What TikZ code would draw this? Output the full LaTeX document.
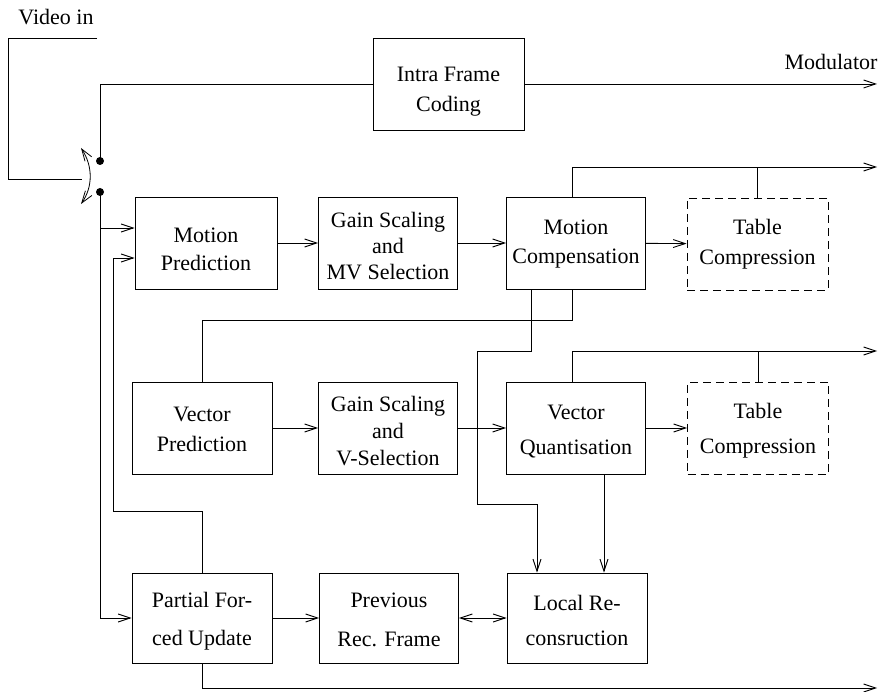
\documentclass[tikz,border=0pt]{standalone}
\usepackage{fontspec}
\setmainfont{Liberation Serif}
\usetikzlibrary{arrows.meta}
\newcommand{\bt}[3]{\raisebox{-#1pt}[\height][\depth]{\fontsize{22}{#2}\selectfont\begin{tabular}{@{}c@{}}#3\end{tabular}}}
\begin{document}
\begin{tikzpicture}[x=1pt,y=-1pt,line width=0.9pt,
  font=\fontsize{22}{29}\selectfont,
  arr/.style={-{Straight Barb[length=12pt,width=8pt]}},
  darr/.style={{Straight Barb[length=12pt,width=8pt]}-{Straight Barb[length=12pt,width=8pt]}},
  blk/.style={draw,minimum width=140pt,minimum height=92pt,align=center,inner sep=0pt},
  dblk/.style={blk,dash pattern=on 8pt off 5pt}]
\useasboundingbox (0,0) rectangle (881,692);

% boxes
\node[blk,minimum width=151pt] (intra) at (448.5,84) {\bt{6.5}{30}{Intra Frame\\Coding}};
\node[blk,minimum width=142pt] (mp) at (206,243) {\bt{8.4}{28}{Motion\\Prediction}};
\node[blk,minimum width=139pt] (gs1) at (388,243) {\bt{5.8}{26}{Gain Scaling\\and\\MV Selection}};
\node[blk,minimum width=139pt] (mc) at (576,243) {\bt{0.2}{29}{Motion\\Compensation}};
\node[dblk,minimum width=141pt] (tc1) at (757.5,244) {\bt{0}{30}{Table\\Compression}};
\node[blk] (vp) at (202,428) {\bt{3}{30}{Vector\\Prediction}};
\node[blk,minimum width=139pt] (gs2) at (388,428) {\bt{5.6}{27}{Gain Scaling\\and\\V-Selection}};
\node[blk,minimum width=139pt] (vq) at (576,428) {\bt{2.5}{35}{Vector\\Quantisation}};
\node[dblk,minimum width=141pt] (tc2) at (758,428) {\bt{1}{35}{Table\\Compression}};
\node[blk,minimum height=90pt] (pfu) at (202,618) {\bt{0.4}{38}{Partial For-\\ced Update}};
\node[blk,minimum width=139pt,minimum height=90pt] (prev) at (389,618) {\bt{0.7}{39}{Previous\\Rec. Frame}};
\node[blk,minimum height=90pt] (lr) at (577,618) {\bt{2.5}{35}{Local Re-\\consruction}};

% labels
\node (vidin) at (56,17) {Video in};
\node (modl) at (831,62) {Modulator};

% switch
\coordinate (vin) at (97,38);
\coordinate (swin) at (82,179);
\coordinate (dup) at (100,161);
\coordinate (dlow) at (100,192);
\coordinate (swa) at (81,148);
\coordinate (swb) at (81,204);
\draw (vin) -- (8,38) -- (8,179) -- (swin);
\draw[darr,line width=0.8pt] (swa) .. controls (93,166) and (93,187) .. (swb);
\fill (dup) circle[radius=4pt];
\fill (dlow) circle[radius=4pt];

% intra path
\coordinate (omod) at (877,84);
\draw (dup) |- (intra.west);
\draw[arr] (intra.east) -- (omod);

% left distribution
\coordinate (brmp) at (100,228);
\draw[arr] (dlow) |- (pfu.west);
\draw[arr] (brmp) -- ([yshift=15pt]mp.west);
\coordinate (fbk) at (113,511);
\draw[arr] (pfu.north) |- (fbk) |- ([yshift=-15pt]mp.west);

% row 1
\draw[arr] (mp) -- (gs1);
\draw[arr] (gs1) -- (mc);
\draw[arr] (mc) -- (tc1);
\coordinate (o2) at (877,167);
\draw[arr] ([xshift=-4pt]mc.north) |- (o2);
\draw (tc1.north) -- (tc1.north |- o2);
\coordinate (mcvp) at (572,320);
\draw ([xshift=-4pt]mc.south) -- (mcvp) -| (vp.north);
\coordinate (mca) at (531,351);
\coordinate (mcb) at (477,351);
\coordinate (mcc) at (477,504);
\coordinate (mcd) at (537,504);
\draw[arr] ([xshift=-45pt]mc.south) -- (mca) -- (mcb) -- (mcc) -- (mcd) -- (mcd |- lr.north);

% row 2
\draw[arr] (vp) -- (gs2);
\draw[arr] (gs2) -- (vq);
\draw[arr] (vq) -- (tc2);
\coordinate (o3) at (877,351);
\draw[arr] ([xshift=-4pt]vq.north) |- (o3);
\draw (tc2.north) -- (tc2.north |- o3);
\draw[arr] ([xshift=28pt]vq.south) -- ([xshift=27pt]lr.north);

% row 3
\draw[arr] (pfu) -- (prev);
\draw[darr] (prev) -- (lr);
\coordinate (o4) at (877,688);
\draw[arr] (pfu.south) |- (o4);
\end{tikzpicture}
\end{document}
